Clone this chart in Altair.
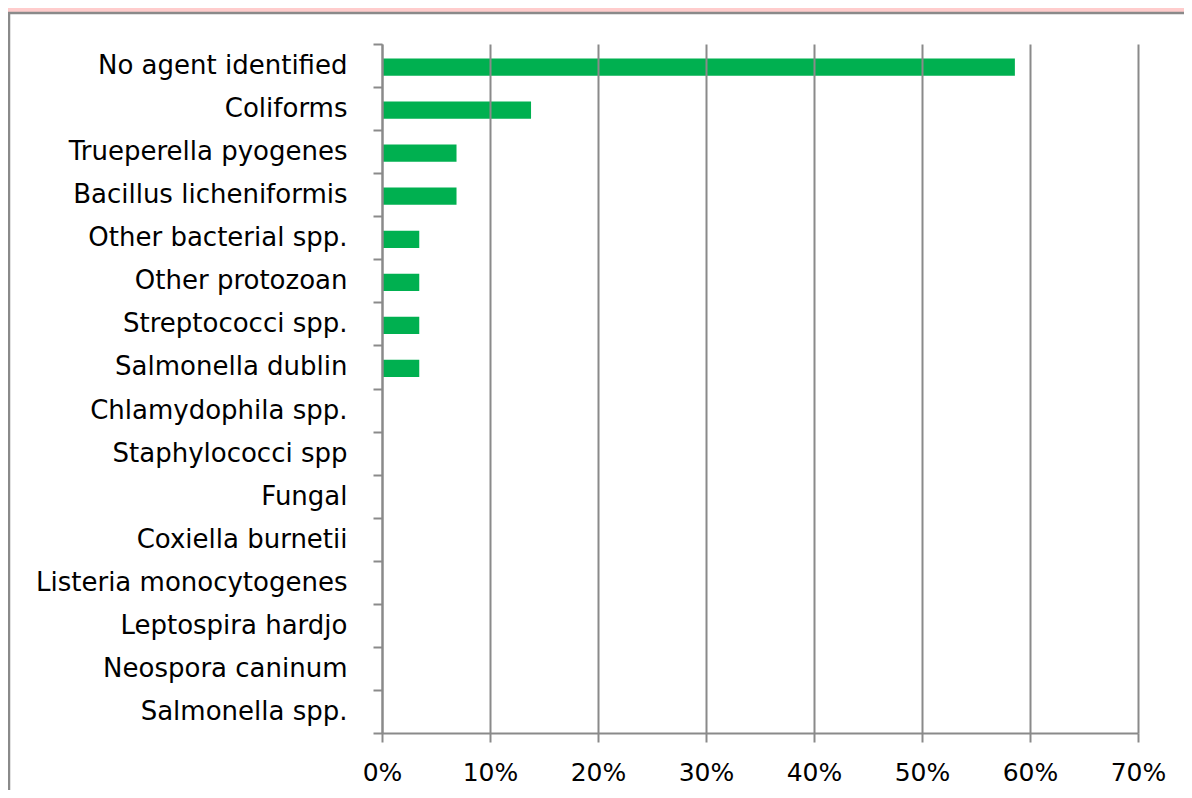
import altair as alt
import pandas as pd

categories = [
    "No agent identified", "Coliforms", "Trueperella pyogenes", "Bacillus licheniformis",
    "Other bacterial spp.", "Other protozoan", "Streptococci spp.", "Salmonella dublin",
    "Chlamydophila  spp.", "Staphylococci spp", "Fungal", "Coxiella burnetii",
    "Listeria monocytogenes", "Leptospira hardjo", "Neospora caninum", "Salmonella spp.",
]
values = [0.586, 0.138, 0.069, 0.069, 0.0345, 0.0345, 0.0345, 0.0345,
          0, 0, 0, 0, 0, 0, 0, 0]
x_ticks = [0, 0.1, 0.2, 0.3, 0.4, 0.5, 0.6, 0.7]

df = pd.DataFrame({"agent": categories, "share": values})

GRAY = "#8a8a8a"
FONT = "DejaVu Sans"

frame = alt.Chart(pd.DataFrame({"k": [0]})).mark_rect(
    fill="white", stroke=GRAY, strokeWidth=2.5, clip=False
).encode(
    x=alt.value(-373), x2=alt.value(900),
    y=alt.value(-31), y2=alt.value(900),
)

bars = alt.Chart(df).mark_bar(color="#00B050", height={"band": 0.4}, yOffset=1.5).encode(
    y=alt.Y("agent:N", sort=categories, title=None,
            scale=alt.Scale(paddingInner=0, paddingOuter=0),
            axis=alt.Axis(tickBand="extent", tickSize=9, tickColor=GRAY, tickWidth=2,
                          domainColor=GRAY, domainWidth=2, grid=False, zindex=1,
                          labelFont=FONT, labelFontSize=26, labelColor="black",
                          labelPadding=26, labelLimit=400)),
    x=alt.X("share:Q", title=None,
            scale=alt.Scale(domain=[0, 0.7], nice=False),
            axis=alt.Axis(values=x_ticks, format=".0%", grid=True, gridColor=GRAY,
                          gridWidth=2, tickSize=9, tickColor=GRAY, tickWidth=2,
                          domainColor=GRAY, domainWidth=2, zindex=1,
                          labelFlush=False, labelOverlap=False,
                          labelFont=FONT, labelFontSize=25, labelColor="black",
                          labelPadding=18)),
)

chart = alt.layer(frame, bars).properties(
    width=756, height=689,
    background="#FFCCCC",
    padding={"left": 374, "top": 36, "right": 46, "bottom": 57},
    autosize=alt.AutoSizeParams(type="none"),
).configure_view(stroke=None)

chart.save("out.html", embed_options={"renderer": "svg", "actions": False})
